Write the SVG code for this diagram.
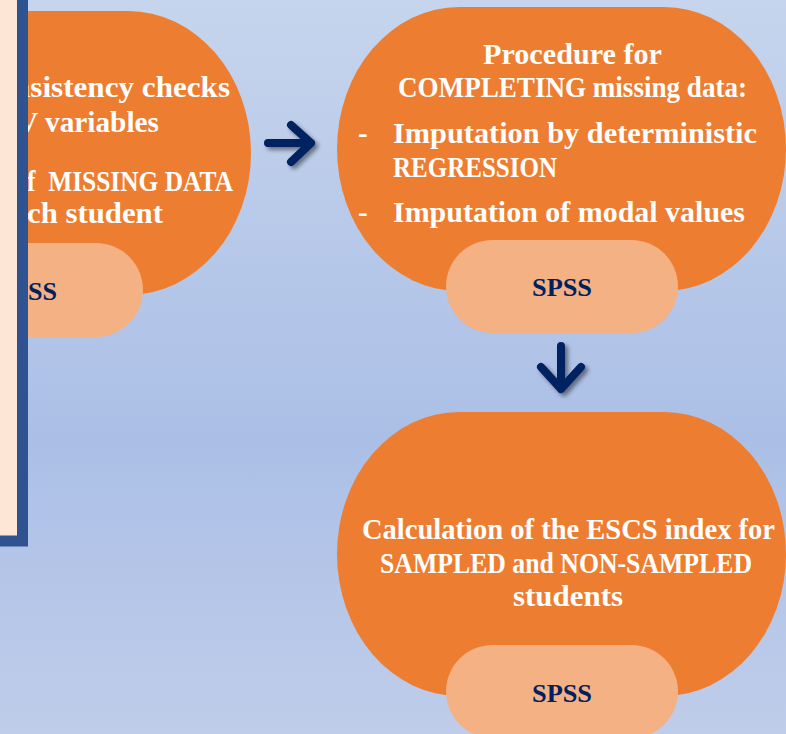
<svg xmlns="http://www.w3.org/2000/svg" width="786" height="734" viewBox="0 0 786 734">
<defs>
<linearGradient id="bg" x1="0" y1="0" x2="0" y2="1">
<stop offset="0" stop-color="#c6d5ed"/>
<stop offset="0.6" stop-color="#abbfe6"/>
<stop offset="1" stop-color="#bfcdea"/>
</linearGradient>
<filter id="sh" x="-30%" y="-30%" width="160%" height="160%">
<feDropShadow dx="3" dy="3" stdDeviation="2" flood-color="#000" flood-opacity="0.45"/>
</filter>
</defs>
<style>
.blob{fill:#ed7d31}
.pill{fill:#f4b183}
.t{font-family:"Liberation Serif","Times New Roman",serif;font-weight:bold;font-size:29px;fill:#ffffff}
.s{font-family:"Liberation Serif","Times New Roman",serif;font-weight:bold;font-size:26px;fill:#002060}
.arr{fill:none;stroke:#002060;stroke-width:8;stroke-linecap:round;stroke-linejoin:round}
</style>
<rect x="0" y="0" width="786" height="734" fill="url(#bg)"/>

<g id="node-checks">
<rect class="blob" x="-202" y="11" width="453" height="284" rx="123" ry="142"/>
<text class="t" x="13" y="97" textLength="217" lengthAdjust="spacingAndGlyphs">nsistency checks</text>
<text class="t" x="17" y="132" textLength="142" lengthAdjust="spacingAndGlyphs">V variables</text>
<text class="t" x="27" y="191" textLength="206" lengthAdjust="spacingAndGlyphs" xml:space="preserve">f  MISSING DATA</text>
<text class="t" x="27" y="223" textLength="136" lengthAdjust="spacingAndGlyphs">ch student</text>
<rect class="pill" x="-89" y="243" width="232" height="94" rx="47"/>
<text class="s" x="28" y="300" textLength="29" lengthAdjust="spacingAndGlyphs">SS</text>
</g>

<g id="left-panel">
<rect x="-50" y="-50" width="72.5" height="591" fill="#fde6d6" stroke="#2f5290" stroke-width="11"/>
</g>

<g id="node-completing">
<rect class="blob" x="337" y="7" width="449" height="284" rx="122" ry="142"/>
<text class="t" x="483" y="64" textLength="179" lengthAdjust="spacingAndGlyphs">Procedure for</text>
<text class="t" x="398" y="97" textLength="349" lengthAdjust="spacingAndGlyphs">COMPLETING missing data:</text>
<text class="t" x="358" y="143">-</text>
<text class="t" x="393" y="143" textLength="364" lengthAdjust="spacingAndGlyphs">Imputation by deterministic</text>
<text class="t" x="393" y="177" textLength="164" lengthAdjust="spacingAndGlyphs">REGRESSION</text>
<text class="t" x="358" y="222">-</text>
<text class="t" x="393" y="222" textLength="352" lengthAdjust="spacingAndGlyphs">Imputation of modal values</text>
<rect class="pill" x="446" y="240" width="232" height="93" rx="46.5"/>
<text class="s" x="532" y="296" textLength="60" lengthAdjust="spacingAndGlyphs">SPSS</text>
</g>

<g id="node-escs">
<rect class="blob" x="337" y="412" width="449" height="284" rx="122" ry="142"/>
<text class="t" x="362" y="539" textLength="413" lengthAdjust="spacingAndGlyphs">Calculation of the ESCS index for</text>
<text class="t" x="380" y="573" textLength="372" lengthAdjust="spacingAndGlyphs">SAMPLED and NON-SAMPLED</text>
<text class="t" x="513" y="606" textLength="110" lengthAdjust="spacingAndGlyphs">students</text>
<rect class="pill" x="446" y="645" width="232" height="93" rx="46.5"/>
<text class="s" x="532" y="702" textLength="60" lengthAdjust="spacingAndGlyphs">SPSS</text>
</g>

<g id="connectors" filter="url(#sh)">
<path class="arr" d="M268 143 H311 M291 125 L311 143 L291 162"/>
<path class="arr" d="M561 346 V389 M541 367 L561 389 L581 367"/>
</g>
</svg>
